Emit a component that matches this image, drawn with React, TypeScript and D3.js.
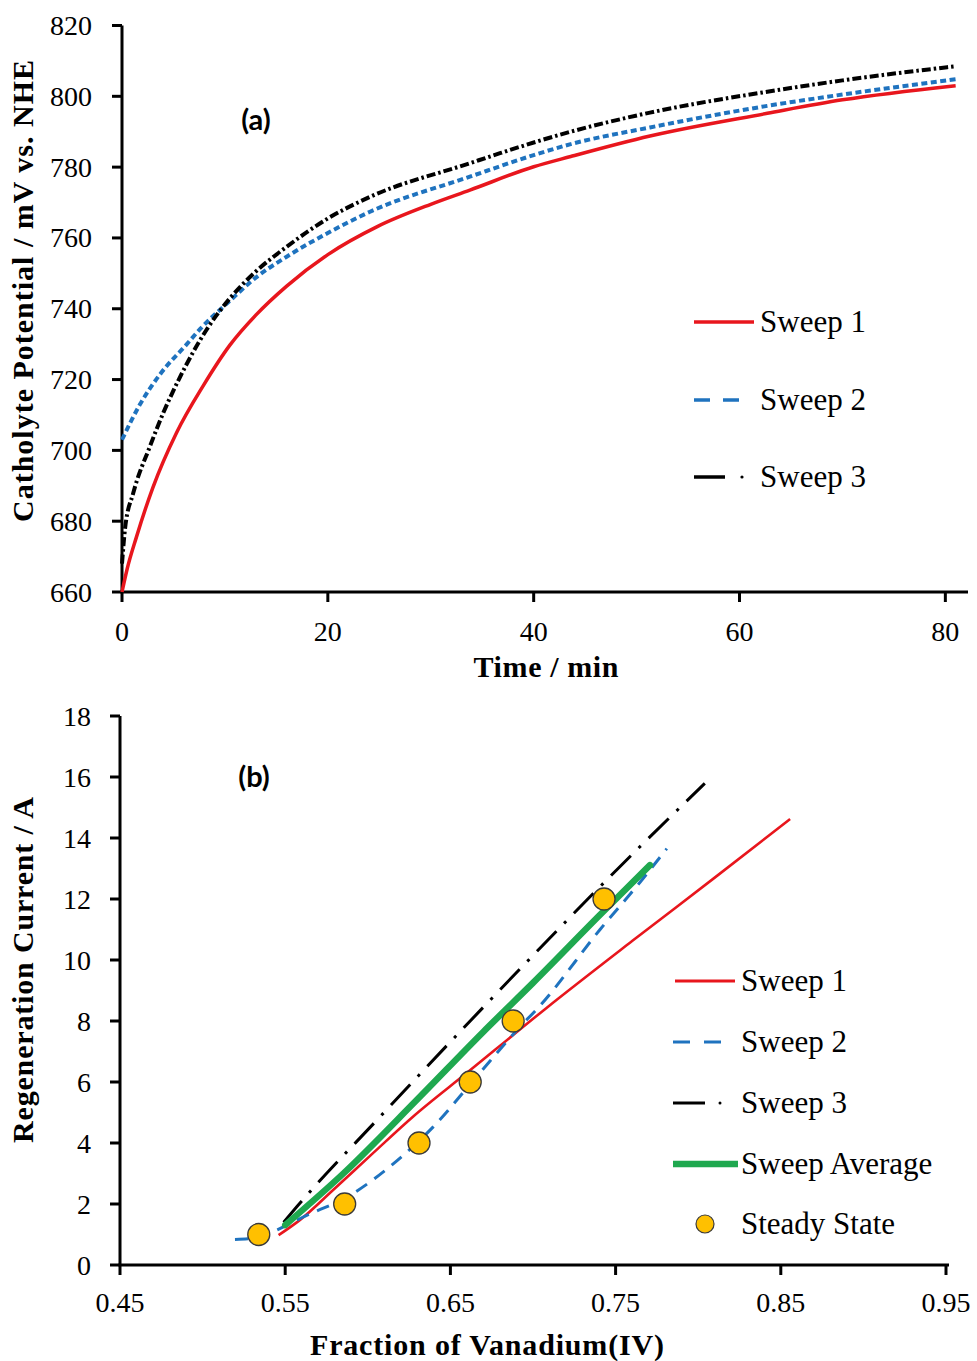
import React from "react";
import * as d3 from "d3";

// ---------- Panel (a) data: Catholyte potential vs time ----------
const timeSweep1 = [0, 0.5, 1.4, 3, 5.3, 7.9, 10.5, 13, 16, 20, 24.8, 30, 33.8, 40, 43.6, 51.3, 62.7, 70, 81];
const potSweep1 = [660, 666.5, 675.5, 689.5, 705, 718.3, 729.8, 738.2, 746.4, 755.3, 763.2, 769.5, 773.5, 780.1, 783, 788.8, 795.2, 799, 803];

const timeSweep2 = [0, 1.75, 3.7, 6.3, 7.6, 10.5, 13, 16, 20, 24.1, 33.8, 40, 43.6, 51.3, 62.7, 70, 81];
const potSweep2 = [703, 713, 721.5, 730, 734.3, 742.3, 748.8, 754.7, 761.4, 767.4, 777.3, 783.4, 786.5, 791.2, 797.3, 800.5, 804.8];

const timeSweep3 = [0, 0.3, 1.1, 2.7, 4.0, 5.6, 8.2, 10.5, 13, 16, 20, 24.1, 33.8, 36.8, 43.6, 51.3, 62.7, 70, 81];
const potSweep3 = [668, 678, 688, 701, 710.5, 720.5, 734, 743, 750.5, 757.5, 765.5, 771.6, 781.1, 784, 790, 795.4, 801.3, 804.5, 808.5];

const timeTicks = [0, 20, 40, 60, 80];
const potTicks = [660, 680, 700, 720, 740, 760, 780, 800, 820];

// ---------- Panel (b) data: Regeneration current vs fraction V(IV) ----------
const fracSweep1 = [0.546, 0.559, 0.579, 0.603, 0.6275, 0.66, 0.708, 0.76, 0.81, 0.8556];
const currSweep1 = [0.98, 1.48, 2.46, 3.66, 4.87, 6.3, 8.42, 10.62, 12.7, 14.62];

const fracSweep2 = [0.5196, 0.534, 0.545, 0.56, 0.5912, 0.615, 0.6396, 0.6658, 0.692, 0.7042, 0.7406, 0.7648, 0.781];
const currSweep2 = [0.84, 0.9, 1.15, 1.55, 2.35, 3.3, 4.53, 6.17, 7.8, 8.5, 11.0, 12.55, 13.65];

const fracSweep3 = [0.549, 0.557, 0.6074, 0.6699, 0.7637, 0.804];
const currSweep3 = [1.4, 1.91, 4.86, 8.45, 13.66, 15.79];

const fracAvg = [0.55, 0.5852, 0.6296, 0.67, 0.7, 0.74, 0.7708];
const currAvg = [1.31, 3.0, 5.41, 7.65, 9.25, 11.45, 13.11];

const fracSteady = [0.534, 0.586, 0.631, 0.662, 0.688, 0.743];
const currSteady = [1, 2, 4, 6, 8, 12];

const fracTicks = [0.45, 0.55, 0.65, 0.75, 0.85, 0.95];
const currTicks = [0, 2, 4, 6, 8, 10, 12, 14, 16, 18];

const legendA = ["Sweep 1", "Sweep 2", "Sweep 3"];
const legendB = ["Sweep 1", "Sweep 2", "Sweep 3", "Sweep Average", "Steady State"];

const RED = "#e8161d";
const BLUE = "#1f73bf";
const BLACK = "#000000";
const GREEN = "#1fa84f";
const GOLD = "#ffc000";

const SERIF = "Liberation Serif";
const SANS = "Lato";

function zip(xs: number[], ys: number[]): [number, number][] {
  return xs.map((x, i) => [x, ys[i]]);
}

export default function App() {
  const xA = d3.scaleLinear().domain([0, 82.2]).range([122, 968]);
  const yA = d3.scaleLinear().domain([660, 820]).range([592, 25.5]);
  const xB = d3.scaleLinear().domain([0.45, 0.95]).range([120, 946]);
  const yB = d3.scaleLinear().domain([0, 18]).range([1265, 716]);

  const lineA = d3
    .line<[number, number]>()
    .x((d) => xA(d[0]))
    .y((d) => yA(d[1]))
    .curve(d3.curveMonotoneX);
  const lineB = d3
    .line<[number, number]>()
    .x((d) => xB(d[0]))
    .y((d) => yB(d[1]))
    .curve(d3.curveMonotoneX);

  const axisStroke = 3;
  const tickLen = 10;
  const serif = { fontFamily: SERIF };
  const sans = { fontFamily: SANS };

  return (
    <svg
      width={977}
      height={1361}
      style={{ position: "absolute", left: 0, top: 0, background: "#fff" }}
      xmlns="http://www.w3.org/2000/svg"
    >
      <rect x={0} y={0} width={977} height={1361} fill="#fff" />

      {/* ================= Panel (a) ================= */}
      <g>
        <line x1={xA(0)} x2={xA(0)} y1={yA(660)} y2={yA(820)} stroke="#000" strokeWidth={axisStroke} />
        <line x1={xA(0) - 1.5} x2={968} y1={yA(660)} y2={yA(660)} stroke="#000" strokeWidth={axisStroke} />
        {potTicks.map((v) => (
          <g key={"ya" + v}>
            <line x1={xA(0) - tickLen} x2={xA(0)} y1={yA(v)} y2={yA(v)} stroke="#000" strokeWidth={axisStroke} />
            <text x={92} y={yA(v) + 9.5} textAnchor="end" style={serif} fontSize={28} fill="#000">
              {v}
            </text>
          </g>
        ))}
        {timeTicks.map((t) => (
          <g key={"xa" + t}>
            <line x1={xA(t)} x2={xA(t)} y1={yA(660)} y2={yA(660) + tickLen} stroke="#000" strokeWidth={axisStroke} />
            <text x={xA(t)} y={641} textAnchor="middle" style={serif} fontSize={28} fill="#000">
              {t}
            </text>
          </g>
        ))}
        <text x={546} y={677} textAnchor="middle" style={serif} fontWeight="bold" fontSize={30} textLength={145} lengthAdjust="spacing" fill="#000">
          Time / min
        </text>
        <text
          transform={`translate(33, 291) rotate(-90)`}
          textAnchor="middle"
          style={serif}
          fontWeight="bold"
          fontSize={30}
          textLength={462}
          lengthAdjust="spacing"
          fill="#000"
        >
          Catholyte Potential / mV vs. NHE
        </text>
        <text x={256} y={130} textAnchor="middle" style={sans} fontWeight="bold" fontSize={29} fill="#000">
          (a)
        </text>

        <path d={lineA(zip(timeSweep1, potSweep1)) || ""} fill="none" stroke={RED} strokeWidth={3.5} />
        <path d={lineA(zip(timeSweep2, potSweep2)) || ""} fill="none" stroke={BLUE} strokeWidth={4} strokeDasharray="6,3.5" />
        <path d={lineA(zip(timeSweep3, potSweep3)) || ""} fill="none" stroke={BLACK} strokeWidth={4} strokeDasharray="9,3,2.5,3" />

        {legendA.map((name, i) => {
          const ly = [322, 400, 477][i];
          return (
            <g key={"la" + i}>
              {i === 0 && <line x1={694} x2={754} y1={ly} y2={ly} stroke={RED} strokeWidth={3.5} />}
              {i === 1 && <line x1={694} x2={740} y1={ly} y2={ly} stroke={BLUE} strokeWidth={3.5} strokeDasharray="16,13" />}
              {i === 2 && (
                <g>
                  <line x1={694} x2={725} y1={ly} y2={ly} stroke={BLACK} strokeWidth={3.5} />
                  <circle cx={742} cy={ly} r={1.6} fill={BLACK} />
                </g>
              )}
              <text x={760} y={ly + 10} style={serif} fontSize={31} fill="#000">
                {name}
              </text>
            </g>
          );
        })}
      </g>

      {/* ================= Panel (b) ================= */}
      <g>
        <line x1={xB(0.45)} x2={xB(0.45)} y1={yB(0)} y2={yB(18)} stroke="#000" strokeWidth={axisStroke} />
        <line x1={xB(0.45) - 1.5} x2={xB(0.95) + 3} y1={yB(0)} y2={yB(0)} stroke="#000" strokeWidth={axisStroke} />
        {currTicks.map((v) => (
          <g key={"yb" + v}>
            <line x1={xB(0.45) - tickLen} x2={xB(0.45)} y1={yB(v)} y2={yB(v)} stroke="#000" strokeWidth={axisStroke} />
            <text x={91} y={yB(v) + 9.5} textAnchor="end" style={serif} fontSize={28} fill="#000">
              {v}
            </text>
          </g>
        ))}
        {fracTicks.map((f) => (
          <g key={"xb" + f}>
            <line x1={xB(f)} x2={xB(f)} y1={yB(0)} y2={yB(0) + tickLen} stroke="#000" strokeWidth={axisStroke} />
            <text x={xB(f)} y={1312} textAnchor="middle" style={serif} fontSize={28} fill="#000">
              {f.toFixed(2)}
            </text>
          </g>
        ))}
        <text x={487} y={1355} textAnchor="middle" style={serif} fontWeight="bold" fontSize={30} textLength={354} lengthAdjust="spacing" fill="#000">
          Fraction of Vanadium(IV)
        </text>
        <text
          transform={`translate(33, 970) rotate(-90)`}
          textAnchor="middle"
          style={serif}
          fontWeight="bold"
          fontSize={30}
          textLength={346}
          lengthAdjust="spacing"
          fill="#000"
        >
          Regeneration Current / A
        </text>
        <text x={254} y={787} textAnchor="middle" style={sans} fontWeight="bold" fontSize={29} fill="#000">
          (b)
        </text>

        <path d={lineB(zip(fracSweep1, currSweep1)) || ""} fill="none" stroke={RED} strokeWidth={2.6} />
        <path d={lineB(zip(fracSweep2, currSweep2)) || ""} fill="none" stroke={BLUE} strokeWidth={3} strokeDasharray="13,9" />
        <path d={lineB(zip(fracSweep3, currSweep3)) || ""} fill="none" stroke={BLACK} strokeWidth={3} strokeDasharray="28,11,3,11" />
        <path d={lineB(zip(fracAvg, currAvg)) || ""} fill="none" stroke={GREEN} strokeWidth={6.5} strokeLinecap="round" />
        {fracSteady.map((f, i) => (
          <circle key={"ss" + i} cx={xB(f)} cy={yB(currSteady[i])} r={11} fill={GOLD} stroke="#3a3a3a" strokeWidth={1.3} />
        ))}

        {legendB.map((name, i) => {
          const ly = [981, 1042, 1103, 1164, 1224][i];
          return (
            <g key={"lb" + i}>
              {i === 0 && <line x1={675} x2={735} y1={ly} y2={ly} stroke={RED} strokeWidth={3} />}
              {i === 1 && <line x1={673} x2={721} y1={ly} y2={ly} stroke={BLUE} strokeWidth={3} strokeDasharray="17,14" />}
              {i === 2 && (
                <g>
                  <line x1={673} x2={705} y1={ly} y2={ly} stroke={BLACK} strokeWidth={3} />
                  <circle cx={720} cy={ly} r={1.5} fill={BLACK} />
                </g>
              )}
              {i === 3 && <line x1={673} x2={738} y1={ly} y2={ly} stroke={GREEN} strokeWidth={6.5} />}
              {i === 4 && <circle cx={705} cy={ly} r={9} fill={GOLD} stroke="#3a3a3a" strokeWidth={1.2} />}
              <text x={741} y={ly + 10} style={serif} fontSize={31} fill="#000">
                {name}
              </text>
            </g>
          );
        })}
      </g>
    </svg>
  );
}
